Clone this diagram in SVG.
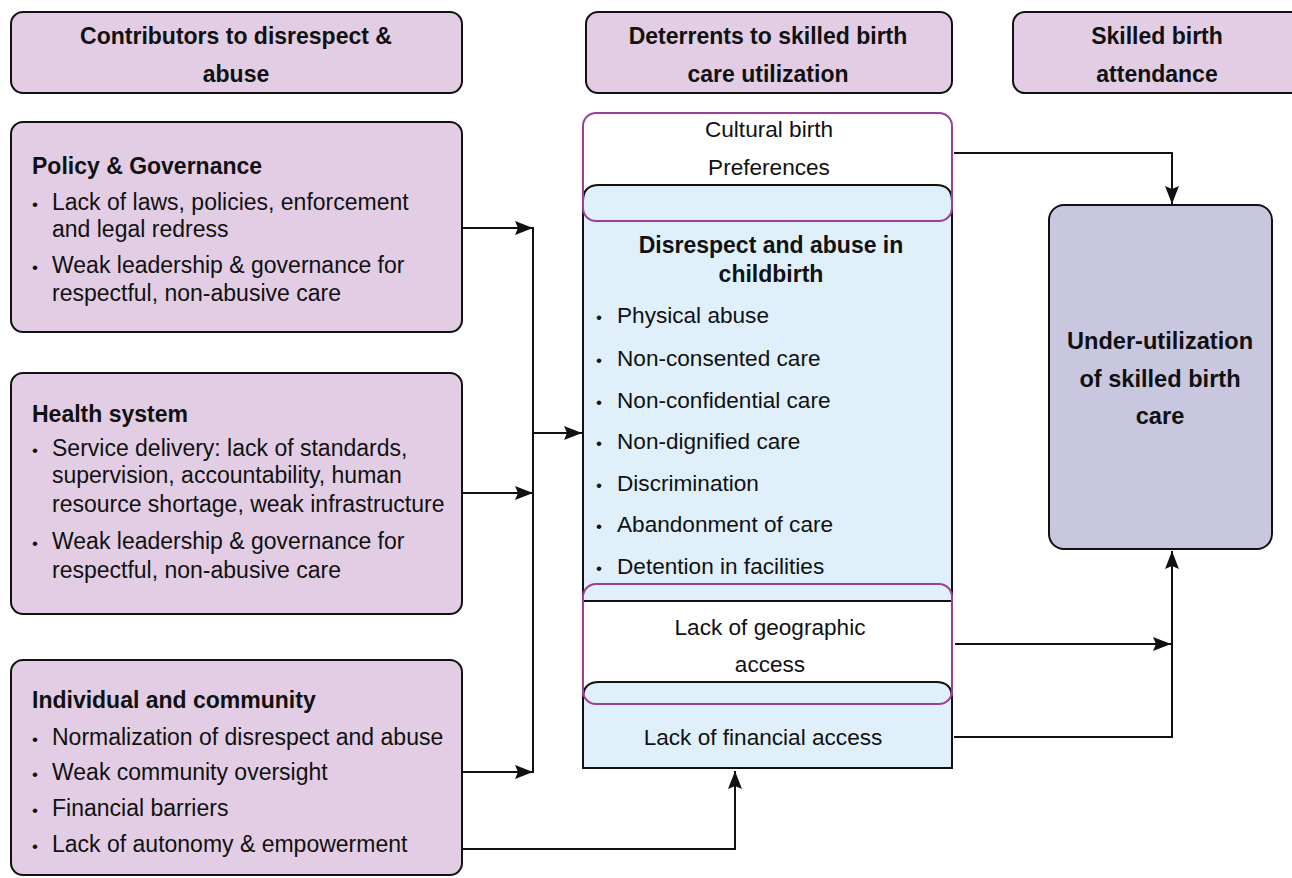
<svg xmlns="http://www.w3.org/2000/svg" width="1292" height="878" viewBox="0 0 1292 878">
<defs>
<style>
.hdr{fill:#e2cde4;stroke:#111;stroke-width:2}
.blue{fill:#dff0fb;stroke:#111;stroke-width:2}
.pur{fill:none;stroke:#9c3f98;stroke-width:2}
.rbox{fill:#c9c7df;stroke:#111;stroke-width:2}
text{font-family:"Liberation Sans",Arial,sans-serif;font-size:22.6px;fill:#111}
.lt{font-size:23px}
.bd{font-weight:bold;font-size:23px}
.big{font-size:23.6px}
.c{text-anchor:middle}
.b{font-size:17px}
.ln{fill:none;stroke:#111;stroke-width:2}
</style>
<marker id="ah" markerWidth="18" markerHeight="14" refX="18" refY="7" orient="auto" markerUnits="userSpaceOnUse">
<path d="M0,0 L18,7 L0,14 L3,7 z" fill="#111"/>
</marker>
</defs>
<rect width="1292" height="878" fill="#fff"/>

<g id="hdr-contributors">
<rect class="hdr" x="11" y="12" width="451" height="81" rx="12"/>
<text class="bd c" x="236" y="44">Contributors to disrespect &amp;</text>
<text class="bd c" x="236" y="82">abuse</text>
</g>
<g id="hdr-deterrents">
<rect class="hdr" x="586" y="12" width="366" height="81" rx="12"/>
<text class="bd c" x="768" y="44">Deterrents to skilled birth</text>
<text class="bd c" x="768" y="82">care utilization</text>
</g>
<g id="hdr-attendance">
<rect class="hdr" x="1013" y="12" width="290" height="81" rx="12"/>
<text class="bd c" x="1157" y="44">Skilled birth</text>
<text class="bd c" x="1157" y="82">attendance</text>
</g>

<g id="policy" class="lt">
<rect class="hdr" x="11" y="122" width="451" height="210" rx="12"/>
<text class="bd" x="32" y="174">Policy &amp; Governance</text>
<text class="lt" x="52" y="210"><tspan class="b" x="32">•</tspan><tspan x="52">Lack of laws, policies, enforcement</tspan></text>
<text class="lt" x="52" y="237">and legal redress</text>
<text class="lt" x="52" y="273"><tspan class="b" x="32">•</tspan><tspan x="52">Weak leadership &amp; governance for</tspan></text>
<text class="lt" x="52" y="301">respectful, non-abusive care</text>
</g>

<g id="health">
<rect class="hdr" x="11" y="373" width="451" height="241" rx="12"/>
<text class="bd" x="32" y="422">Health system</text>
<text class="lt" x="52" y="456"><tspan class="b" x="32">•</tspan><tspan x="52">Service delivery: lack of standards,</tspan></text>
<text class="lt" x="52" y="483">supervision, accountability, human</text>
<text class="lt" x="52" y="512">resource shortage, weak infrastructure</text>
<text class="lt" x="52" y="549"><tspan class="b" x="32">•</tspan><tspan x="52">Weak leadership &amp; governance for</tspan></text>
<text class="lt" x="52" y="578">respectful, non-abusive care</text>
</g>

<g id="individual">
<rect class="hdr" x="11" y="660" width="451" height="215" rx="12"/>
<text class="bd" x="32" y="708">Individual and community</text>
<text class="lt" x="52" y="745"><tspan class="b" x="32">•</tspan><tspan x="52">Normalization of disrespect and abuse</tspan></text>
<text class="lt" x="52" y="780"><tspan class="b" x="32">•</tspan><tspan x="52">Weak community oversight</tspan></text>
<text class="lt" x="52" y="816"><tspan class="b" x="32">•</tspan><tspan x="52">Financial barriers</tspan></text>
<text class="lt" x="52" y="852"><tspan class="b" x="32">•</tspan><tspan x="52">Lack of autonomy &amp; empowerment</tspan></text>
</g>

<g id="disrespect">
<path class="blue" d="M583,601 L583,201 Q583,185 599,185 L936,185 Q952,185 952,201 L952,601 Z"/>
<text class="bd c" x="771" y="253">Disrespect and abuse in</text>
<text class="bd c" x="771" y="282">childbirth</text>
<text x="617" y="323"><tspan class="b" x="596">•</tspan><tspan x="617">Physical abuse</tspan></text>
<text x="617" y="366"><tspan class="b" x="596">•</tspan><tspan x="617">Non-consented care</tspan></text>
<text x="617" y="408"><tspan class="b" x="596">•</tspan><tspan x="617">Non-confidential care</tspan></text>
<text x="617" y="449"><tspan class="b" x="596">•</tspan><tspan x="617">Non-dignified care</tspan></text>
<text x="617" y="491"><tspan class="b" x="596">•</tspan><tspan x="617">Discrimination</tspan></text>
<text x="617" y="532"><tspan class="b" x="596">•</tspan><tspan x="617">Abandonment of care</tspan></text>
<text x="617" y="574"><tspan class="b" x="596">•</tspan><tspan x="617">Detention in facilities</tspan></text>
</g>

<g id="financial">
<path class="blue" d="M583,768 L583,698 Q583,682 599,682 L936,682 Q952,682 952,698 L952,768 Z"/>
<text class="c" x="763" y="745">Lack of financial access</text>
</g>

<g id="cultural">
<rect class="pur" x="583" y="113" width="369" height="108" rx="13"/>
<text class="c" x="769" y="137">Cultural birth</text>
<text class="c" x="769" y="175">Preferences</text>
</g>

<g id="geographic">
<rect class="pur" x="583" y="584" width="369" height="120" rx="13"/>
<text class="c" x="770" y="635">Lack of geographic</text>
<text class="c" x="770" y="672">access</text>
</g>

<g id="underutil">
<rect class="rbox" x="1049" y="205" width="223" height="344" rx="15"/>
<text class="bd big c" x="1160" y="349">Under-utilization</text>
<text class="bd big c" x="1160" y="387">of skilled birth</text>
<text class="bd big c" x="1160" y="424">care</text>
</g>

<g id="connectors">
<line class="ln" x1="462" y1="228" x2="533" y2="228" marker-end="url(#ah)"/>
<line class="ln" x1="462" y1="493" x2="533" y2="493" marker-end="url(#ah)"/>
<line class="ln" x1="462" y1="772" x2="533" y2="772" marker-end="url(#ah)"/>
<line class="ln" x1="533" y1="227" x2="533" y2="773"/>
<line class="ln" x1="533" y1="433" x2="582" y2="433" marker-end="url(#ah)"/>
<polyline class="ln" points="462,849 735,849 735,771" marker-end="url(#ah)"/>
<polyline class="ln" points="954,153 1172,153 1172,204" marker-end="url(#ah)"/>
<line class="ln" x1="955" y1="644" x2="1171" y2="644" marker-end="url(#ah)"/>
<polyline class="ln" points="954,737 1172,737 1172,551" marker-end="url(#ah)"/>
</g>
</svg>
